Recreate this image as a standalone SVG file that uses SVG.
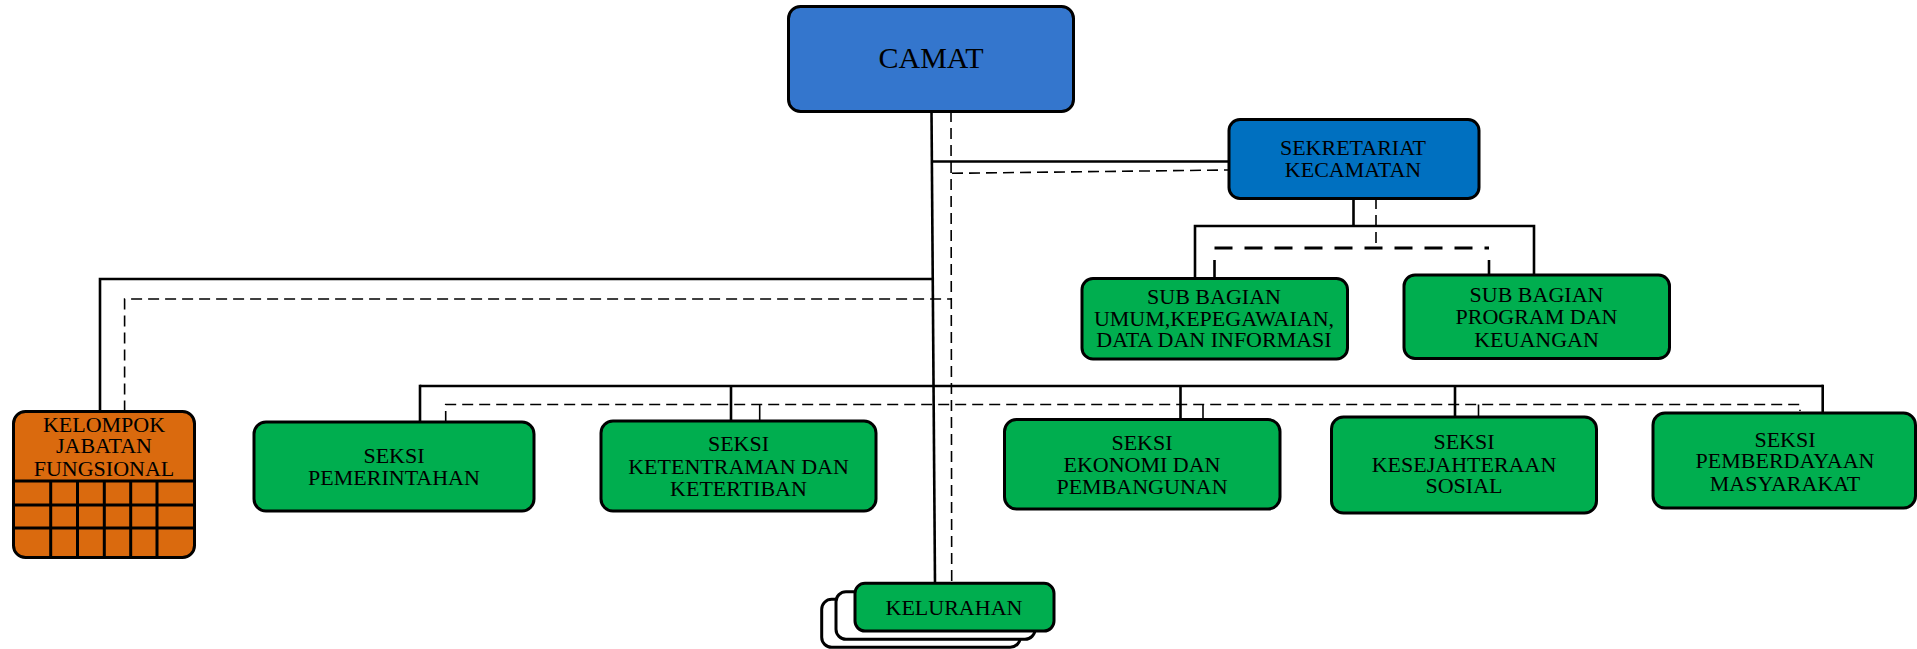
<svg xmlns="http://www.w3.org/2000/svg" width="1917" height="649" viewBox="0 0 1917 649">
<style>
.box{stroke:#000;stroke-width:3}
.blue1{fill:#3476CD}
.blue2{fill:#0070C0}
.green{fill:#00AE4F}
.orange{fill:#DA6A0E}
.white{fill:#fff}
.t{font-family:"Liberation Serif","Times New Roman",serif;font-size:22px;fill:#000;text-anchor:middle}
.solid{stroke:#000;stroke-width:2.6;fill:none}
.dash{stroke:#000;stroke-width:1.6;stroke-dasharray:11 6;fill:none}
.dashb{stroke:#000;stroke-width:3;stroke-dasharray:18 12;fill:none}
.grid{stroke:#000;stroke-width:3}
</style>
<rect width="1917" height="649" fill="#fff"/>
<g id="connectors">
  <polyline class="solid" points="931.5,111 935,583"/>
  <polyline class="dash" points="951,111 951.7,581"/>
  <line class="solid" x1="932" y1="161.5" x2="1229" y2="161.5"/>
  <line class="dash" x1="952" y1="173.3" x2="1228" y2="170"/>
  <line class="solid" x1="1353.5" y1="198" x2="1353.5" y2="226"/>
  <line class="dash" x1="1376" y1="198" x2="1376" y2="248"/>
  <polyline class="solid" points="1195,278.5 1195,226 1534,226 1534,275"/>
  <line class="dashb" x1="1214.5" y1="248" x2="1489" y2="248"/>
  <line class="solid" x1="1214.5" y1="260" x2="1214.5" y2="278.5"/>
  <line class="solid" x1="1489" y1="260" x2="1489" y2="275"/>
  <polyline class="solid" points="100,411.5 100,279 932.5,279"/>
  <polyline class="dash" points="124.6,411.5 124.6,299 951,299"/>
  <line class="solid" x1="420" y1="386" x2="1823" y2="386"/>
  <line class="solid" x1="420" y1="384.7" x2="420" y2="422"/>
  <line class="solid" x1="731" y1="386" x2="731" y2="421"/>
  <line class="solid" x1="1180.5" y1="386" x2="1180.5" y2="419.5"/>
  <line class="solid" x1="1455" y1="386" x2="1455" y2="421"/>
  <line class="solid" x1="1822.7" y1="384.7" x2="1822.7" y2="413"/>
  <polyline class="dash" points="445.7,422 445.7,404.5 1800,404.5 1800,411"/>
  <line class="solid" x1="759.7" y1="404.5" x2="759.7" y2="421" style="stroke-width:1.6"/>
  <line class="solid" x1="1203" y1="404.5" x2="1203" y2="419.5" style="stroke-width:1.6"/>
  <line class="solid" x1="1478.5" y1="404.5" x2="1478.5" y2="417" style="stroke-width:1.6"/>
</g>
<g id="camat">
  <rect class="box blue1" x="788.5" y="6.5" width="285" height="105" rx="12"/>
  <text class="t" x="931" y="68" style="font-size:30px">CAMAT</text>
</g>
<g id="sekretariat">
  <rect class="box blue2" x="1229" y="119.5" width="250" height="79" rx="11"/>
  <text class="t" x="1353" y="154.5">SEKRETARIAT</text>
  <text class="t" x="1353" y="176.5">KECAMATAN</text>
</g>
<g id="subbagian-umum">
  <rect class="box green" x="1082" y="278.5" width="265.5" height="80.5" rx="11"/>
  <text class="t" x="1214" y="303.5">SUB BAGIAN</text>
  <text class="t" x="1214" y="325.5">UMUM,KEPEGAWAIAN,</text>
  <text class="t" x="1214" y="347">DATA DAN INFORMASI</text>
</g>
<g id="subbagian-program">
  <rect class="box green" x="1404" y="275" width="265.5" height="83.5" rx="11"/>
  <text class="t" x="1536.5" y="301.5">SUB BAGIAN</text>
  <text class="t" x="1536.5" y="324">PROGRAM DAN</text>
  <text class="t" x="1536.5" y="346.5">KEUANGAN</text>
</g>
<g id="kelompok">
  <rect class="box orange" x="13.5" y="411.5" width="181" height="146" rx="12"/>
  <line class="grid" x1="13.5" y1="481" x2="194.5" y2="481"/>
  <line class="grid" x1="13.5" y1="505" x2="194.5" y2="505"/>
  <line class="grid" x1="13.5" y1="528" x2="194.5" y2="528"/>
  <line class="grid" x1="50.7" y1="481" x2="50.7" y2="557.5"/>
  <line class="grid" x1="77.5" y1="481" x2="77.5" y2="557.5"/>
  <line class="grid" x1="104.3" y1="481" x2="104.3" y2="557.5"/>
  <line class="grid" x1="130.7" y1="481" x2="130.7" y2="557.5"/>
  <line class="grid" x1="157" y1="481" x2="157" y2="557.5"/>
  <text class="t" x="104" y="431.5">KELOMPOK</text>
  <text class="t" x="104" y="453">JABATAN</text>
  <text class="t" x="104" y="475.5">FUNGSIONAL</text>
</g>
<g id="seksi-pemerintahan">
  <rect class="box green" x="254" y="422" width="280" height="89" rx="12"/>
  <text class="t" x="394" y="462.5">SEKSI</text>
  <text class="t" x="394" y="484.5">PEMERINTAHAN</text>
</g>
<g id="seksi-ketentraman">
  <rect class="box green" x="601" y="421" width="275" height="90" rx="12"/>
  <text class="t" x="738.5" y="451">SEKSI</text>
  <text class="t" x="738.5" y="474">KETENTRAMAN DAN</text>
  <text class="t" x="738.5" y="496">KETERTIBAN</text>
</g>
<g id="seksi-ekonomi">
  <rect class="box green" x="1004.5" y="419.5" width="275.5" height="89.5" rx="12"/>
  <text class="t" x="1142" y="450">SEKSI</text>
  <text class="t" x="1142" y="472">EKONOMI DAN</text>
  <text class="t" x="1142" y="493.5">PEMBANGUNAN</text>
</g>
<g id="seksi-kesejahteraan">
  <rect class="box green" x="1331.5" y="417" width="265" height="96" rx="12"/>
  <text class="t" x="1464" y="449">SEKSI</text>
  <text class="t" x="1464" y="471.5">KESEJAHTERAAN</text>
  <text class="t" x="1464" y="493">SOSIAL</text>
</g>
<g id="seksi-pemberdayaan">
  <rect class="box green" x="1653" y="413" width="262.5" height="95" rx="12"/>
  <text class="t" x="1785" y="446.5">SEKSI</text>
  <text class="t" x="1785" y="468">PEMBERDAYAAN</text>
  <text class="t" x="1785" y="490.5">MASYARAKAT</text>
</g>
<g id="kelurahan">
  <rect class="box white" x="821.7" y="599.3" width="198.5" height="48" rx="10"/>
  <rect class="box white" x="836" y="591.7" width="199" height="47.6" rx="10"/>
  <rect class="box green" x="855" y="583.3" width="199" height="47.7" rx="10"/>
  <text class="t" x="954" y="615">KELURAHAN</text>
</g>
</svg>
